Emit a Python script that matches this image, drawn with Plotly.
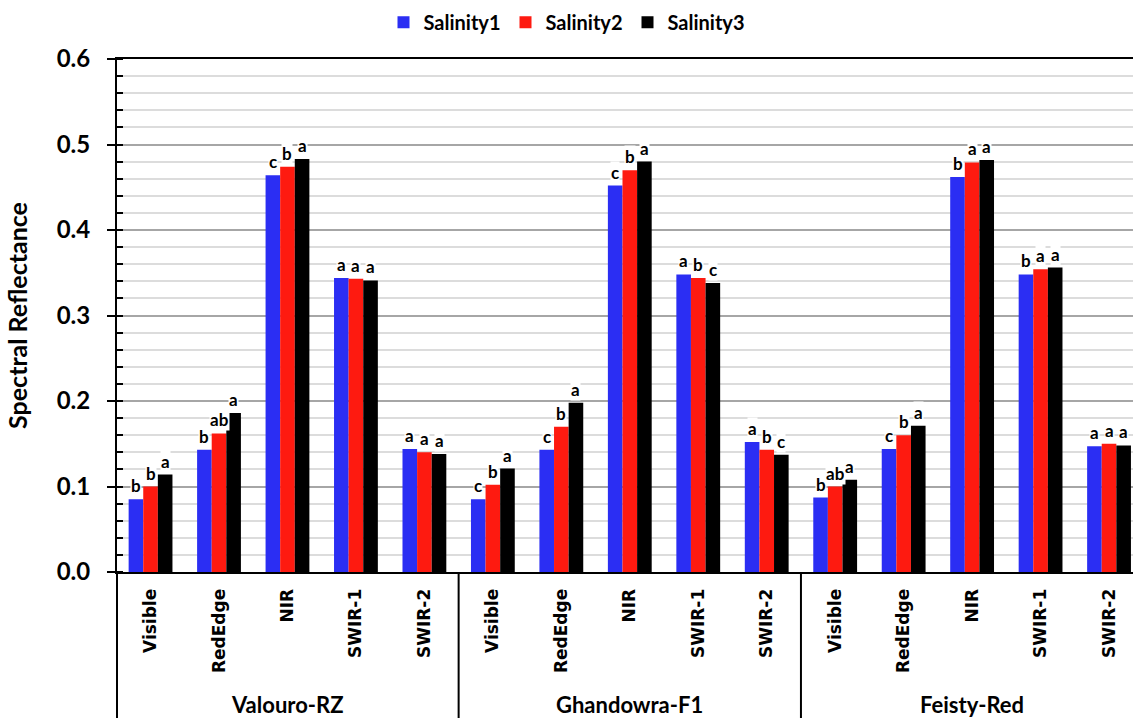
import plotly.graph_objects as go

# Spectral bands and cultivars
bands = ["Visible", "RedEdge", "NIR", "SWIR-1", "SWIR-2"]
cultivars = ["Valouro-RZ", "Ghandowra-F1", "Feisty-Red"]
series_names = ["Salinity1", "Salinity2", "Salinity3"]
colors = ["#2b2ef3", "#fe1a10", "#000000"]

# Mean spectral reflectance (cultivar-major, band-minor order)
salinity1 = [0.085, 0.143, 0.464, 0.344, 0.144,
             0.085, 0.143, 0.452, 0.348, 0.152,
             0.087, 0.144, 0.462, 0.348, 0.147]
salinity2 = [0.100, 0.162, 0.474, 0.343, 0.140,
             0.102, 0.170, 0.470, 0.344, 0.143,
             0.100, 0.160, 0.479, 0.354, 0.150]
salinity3 = [0.114, 0.186, 0.483, 0.341, 0.138,
             0.121, 0.198, 0.480, 0.338, 0.137,
             0.108, 0.171, 0.482, 0.356, 0.148]

# Significance letters for each bar
letters1 = ["b", "b", "c", "a", "a",
            "c", "c", "c", "a", "a",
            "b", "c", "b", "b", "a"]
letters2 = ["b", "ab", "b", "a", "a",
            "b", "b", "b", "b", "b",
            "ab", "b", "a", "a", "a"]
letters3 = ["a", "a", "a", "a", "a",
            "a", "a", "a", "c", "c",
            "a", "a", "a", "a", "a"]

series = [salinity1, salinity2, salinity3]
letters = [letters1, letters2, letters3]

n_cat = len(bands) * len(cultivars)
xpos = list(range(n_cat))
tick_text = bands * len(cultivars)

BARGAP = 0.36
bar_w = (1 - BARGAP) / len(series)

fig = go.Figure()
for name, vals, col in zip(series_names, series, colors):
    fig.add_trace(go.Bar(
        x=xpos, y=vals, name=name,
        marker=dict(color=col, line=dict(width=0)),
    ))

annotations = []
# letters above each bar
for j, (vals, labs) in enumerate(zip(series, letters)):
    off = (j - 1) * bar_w
    for i, (v, lab) in enumerate(zip(vals, labs)):
        annotations.append(dict(
            x=i + off, y=v, xref="x", yref="y", text=lab,
            showarrow=False, yanchor="bottom", yshift=2,
            bgcolor="white", borderpad=0,
            font=dict(family="Lato", size=17, color="black", weight="bold"),
        ))

# cultivar group labels under the band labels
nb = len(bands)
for g, cv in enumerate(cultivars):
    annotations.append(dict(
        x=g * nb + (nb - 1) / 2, y=-0.259, xref="x", yref="paper",
        text=cv, showarrow=False, yanchor="middle",
        font=dict(family="Lato", size=22, color="black", weight="bold"),
    ))

shapes = []
# group dividers below the axis
for g in range(1, len(cultivars)):
    xd = g * nb - 0.5
    shapes.append(dict(type="line", xref="x", yref="paper",
                       x0=xd, x1=xd, y0=0, y1=-0.3,
                       line=dict(color="black", width=2)))
shapes.append(dict(type="line", xref="paper", yref="paper",
                   x0=0, x1=0, y0=0, y1=-0.3,
                   line=dict(color="black", width=2)))

fig.update_layout(
    width=1133, height=718,
    margin=dict(l=117, r=0, t=59, b=146),
    paper_bgcolor="white", plot_bgcolor="white",
    barmode="group", bargap=BARGAP, bargroupgap=0,
    showlegend=True,
    legend=dict(
        orientation="h", xref="container", yref="container",
        x=0.5, y=0.969, xanchor="center", yanchor="middle",
        font=dict(family="Lato", size=20, color="black", weight="bold"),
        itemwidth=30, tracegroupgap=0,
    ),
    annotations=annotations,
    shapes=shapes,
    xaxis=dict(
        range=[-0.49, 14.35], tickmode="array", tickvals=xpos, ticktext=tick_text,
        tickangle=-90, ticks="", showgrid=False, zeroline=False,
        showline=True, linecolor="black", linewidth=2, mirror=True,
        tickfont=dict(family="DejaVu Sans", size=17, color="black", weight="bold"),
        ticklabelstandoff=8,
    ),
    yaxis=dict(
        range=[0, 0.6], dtick=0.1, tickformat=".1f",
        showline=True, linecolor="black", linewidth=2,
        ticks="outside", ticklen=8, tickwidth=2, tickcolor="black",
        showgrid=True, gridcolor="#a6a6a6", gridwidth=2, zeroline=False,
        minor=dict(dtick=0.02, showgrid=True, gridcolor="#dcdcdc", gridwidth=2,
                   ticks="inside", ticklen=6, tickwidth=2, tickcolor="black"),
        tickfont=dict(family="Lato", size=24, color="black", weight="bold"),
        ticklabelstandoff=12,
        title=dict(text="Spectral Reflectance", standoff=22,
                   font=dict(family="Lato", size=25, color="black", weight="bold")),
    ),
)

fig.write_html("out.html")
